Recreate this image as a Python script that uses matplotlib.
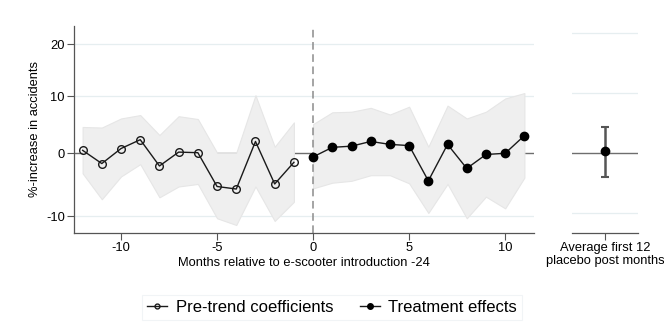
import numpy as np
import matplotlib
matplotlib.use('Agg')
import matplotlib.pyplot as plt
from matplotlib.lines import Line2D

plt.rcParams['font.family'] = ['Liberation Sans', 'DejaVu Sans']

# pre-trend coefficients, % increase
pre_months = [-12, -11, -10, -9, -8, -7, -6, -5, -4, -3, -2, -1]
pre_coef = [0.5, -1.7, 0.8, 2.3, -2.1, 0.2, 0.1, -5.4, -5.8, 2.0, -5.0, -1.5]
pre_hi = [4.5, 4.4, 6.0, 6.6, 3.1, 6.4, 5.9, 0.1, 0.1, 10.2, 1.1, 5.3]
pre_lo = [-3.3, -7.4, -3.8, -1.8, -7.1, -5.4, -5.0, -10.3, -11.3, -5.4, -10.7, -7.8]

# treatment effects, % increase
post_months = [0, 1, 2, 3, 4, 5, 6, 7, 8, 9, 10, 11]
post_coef = [-0.6, 1.0, 1.2, 2.0, 1.5, 1.3, -4.5, 1.5, -2.5, -0.2, 0.0, 3.0]
post_hi = [5.0, 7.1, 7.2, 7.9, 6.7, 8.1, 1.1, 8.3, 6.0, 7.2, 9.6, 10.6]
post_lo = [-5.7, -4.8, -4.5, -3.6, -3.6, -4.9, -9.5, -5.0, -10.3, -7.0, -8.8, -4.0]

# average of first 12 placebo post months
avg_coef = 0.3
avg_hi = 4.4
avg_lo = -3.9

yticks = [-10, 0, 10, 20]


def tr(p):
    # main panel is drawn in log points
    return np.log(1 + np.asarray(p, dtype=float) / 100)


grid_c = '#e6eef0'
band_c = '#efefef'
fs = 9.3

fig = plt.figure(figsize=(6.64, 3.32), dpi=100)
ax = fig.add_axes([0.1114, 0.2982, 0.6928, 0.6235])
ax2 = fig.add_axes([0.8614, 0.2982, 0.0994, 0.6235])

for t in yticks:
    if t != 0:
        ax.axhline(tr(t), color=grid_c, lw=0.9, zorder=0)
ax.axhline(0, color='#6e6e6e', lw=1.0, zorder=1)

ax.fill_between(pre_months, tr(pre_lo), tr(pre_hi), color=band_c, lw=0.8,
                edgecolor='#e6e6e6', zorder=1)
ax.fill_between(post_months, tr(post_lo), tr(post_hi), color=band_c, lw=0.8,
                edgecolor='#e6e6e6', zorder=1)
ax.axvline(0, color='#8c8c8c', lw=1.1, ls=(0, (5, 3)), zorder=2)

ax.plot(pre_months, tr(pre_coef), color='#1a1a1a', lw=1.0, marker='o', ms=5.5,
        mfc='none', mec='#1a1a1a', mew=1.0, zorder=3)
ax.plot(post_months, tr(post_coef), color='#1a1a1a', lw=1.0, marker='o', ms=6,
        mfc='black', mec='black', zorder=3)

ax.set_xlim(-12.45, 11.5)
ax.set_ylim(-0.1333, 0.2129)
ax.set_yticks(tr(yticks))
ax.set_yticklabels([str(t) for t in yticks])
ax.set_xticks([-10, -5, 0, 5, 10])
ax.set_xticklabels(['-10', '-5', '0', '5', '10'])
ax.tick_params(labelsize=fs, length=5, color='#555555', width=0.8, pad=1.5)
ax.set_xlabel('Months relative to e-scooter introduction -24', fontsize=fs, labelpad=2)
ax.set_ylabel('%-increase in accidents', fontsize=fs, labelpad=4)
for s in ['top', 'right']:
    ax.spines[s].set_visible(False)
for s in ['left', 'bottom']:
    ax.spines[s].set_color('#555555')
    ax.spines[s].set_linewidth(0.9)

# right panel
for t in yticks:
    if t != 0:
        ax2.axhline(t, color=grid_c, lw=0.9, zorder=0)
ax2.axhline(0, color='#6e6e6e', lw=1.0, zorder=1)
ax2.errorbar([0], [avg_coef], yerr=[[avg_coef - avg_lo], [avg_hi - avg_coef]],
             fmt='o', color='black', ms=6, ecolor='#555555', elinewidth=1.8,
             capsize=3, capthick=1.5, zorder=3)
ax2.set_xlim(-1, 1)
ax2.set_ylim(-13.3, 21.2)
ax2.set_yticks([])
ax2.set_xticks([0])
ax2.set_xticklabels(['Average first 12\nplacebo post months'], fontsize=fs,
                    linespacing=1.15)
ax2.tick_params(length=5, color='#555555', width=0.8, pad=1.5)
for s in ['top', 'right', 'left']:
    ax2.spines[s].set_visible(False)
ax2.spines['bottom'].set_color('#555555')
ax2.spines['bottom'].set_linewidth(0.9)

handles = [
    Line2D([], [], color='#1a1a1a', lw=1.0, marker='o', ms=3.5, mfc='none', mec='#1a1a1a'),
    Line2D([], [], color='#1a1a1a', lw=1.0, marker='o', ms=4, mfc='black', mec='black'),
]
leg = fig.legend(handles, ['Pre-trend coefficients', 'Treatment effects'],
                 loc='center', bbox_to_anchor=(0.5, 0.075), ncol=2, fontsize=12,
                 frameon=True, fancybox=False, handlelength=1.2, handletextpad=0.5,
                 columnspacing=1.6, borderpad=0.3)
leg.get_frame().set_edgecolor('#eef2f4')
leg.get_frame().set_linewidth(0.8)

fig.savefig('out.png', dpi=100)
